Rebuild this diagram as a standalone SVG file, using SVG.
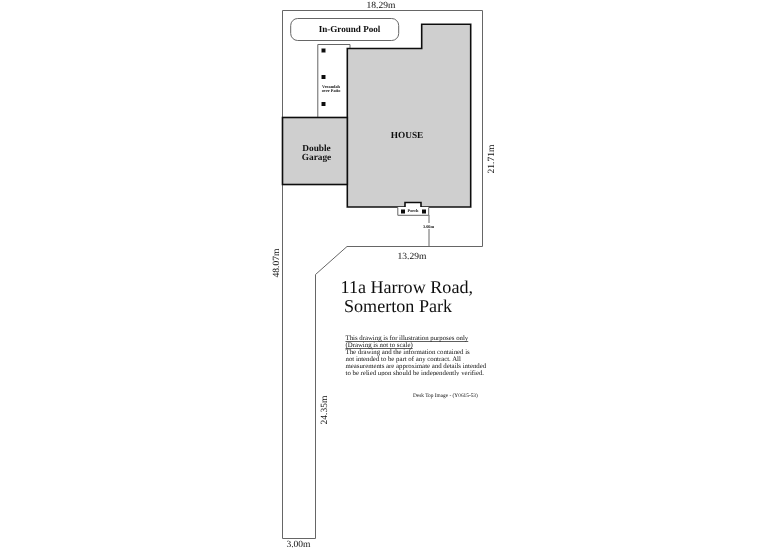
<svg xmlns="http://www.w3.org/2000/svg" width="768" height="550" viewBox="0 0 768 550">
<style>
text{font-family:"Liberation Serif","Times New Roman",serif;fill:#111;text-rendering:geometricPrecision}
.thin{fill:none;stroke:#666;stroke-width:1}
.wall{fill:#cfcfcf;stroke:#111;stroke-width:1.6}
.post{fill:#111;stroke:none}
.b{font-weight:bold;text-anchor:middle}
.dim{font-size:9.5px;text-anchor:middle}
.note{font-size:6.8px}
</style>
<defs><clipPath id="noteclip"><rect x="340" y="330" width="150" height="45.5"/></clipPath>
<filter id="soft" x="0" y="0" width="768" height="550" filterUnits="userSpaceOnUse"><feGaussianBlur stdDeviation="0.35"/></filter></defs>
<rect width="768" height="550" fill="#fff"/>
<g filter="url(#soft)">
<g id="connectors">
<path id="boundary" class="thin" d="M282.5 117V10.5H482.5V246.5H347L315.5 274.5V538.5H282.5V184"/>
<path id="setback" class="thin" d="M429 215V246.5"/>
</g>
<g id="pool"><rect class="thin" x="290.7" y="18.5" width="108" height="22" rx="7"/><text class="b" x="349.5" y="32" font-size="9.1">In-Ground Pool</text></g>
<g id="verandah"><path class="thin" d="M317.8 117V44.5H350V48"/>
<rect class="post" x="321.5" y="48.5" width="4" height="4"/><rect class="post" x="321.5" y="75" width="4" height="4"/><rect class="post" x="321.5" y="102" width="4" height="4"/>
<text class="b" font-size="4.3" x="331" y="87.5">Verandah</text><text class="b" font-size="4.3" x="331" y="92">over Patio</text></g>
<g id="house"><path class="wall" d="M347.3 48.5H421.7V24.3H470.7V207H347.3Z"/><text class="b" x="407" y="137.5" font-size="9.3">HOUSE</text></g>
<g id="porch"><path d="M397.8 207H405V202.5H421V207H428.7V215.3H397.8Z" fill="#fff" stroke="none"/>
<path fill="none" stroke="#111" stroke-width="1.6" d="M405 207V202.5H421V207"/>
<path class="thin" d="M397.8 207.5V215.3H428.7V207.5"/>
<rect class="post" x="401" y="209.5" width="4" height="4"/><rect class="post" x="422" y="209.5" width="4" height="4"/>
<text class="b" x="413" y="211.5" font-size="4.3">Porch</text></g>
<g id="garage"><rect class="wall" x="282.5" y="117.5" width="64.8" height="67"/><text class="b" x="316.5" y="150.5" font-size="9.3">Double</text><text class="b" x="316.5" y="159.5" font-size="9.3">Garage</text></g>
<g id="labels">
<text class="dim" x="381" y="7.5">18.29m</text>
<text class="dim" x="412" y="258.5">13.29m</text>
<text class="dim" x="298.5" y="547">3.00m</text>
<text class="dim" transform="translate(493.5 159) rotate(-90)">21.71m</text>
<text class="dim" transform="translate(279 263) rotate(-90)">48.07m</text>
<text class="dim" transform="translate(327 410) rotate(-90)">24.35m</text>
<rect x="421" y="223" width="16" height="6" fill="#fff"/>
<text class="b" x="428.5" y="228.3" font-size="4.3">3.66m</text>
</g>
<g id="title"><text x="340.5" y="293" font-size="18.1">11a Harrow Road,</text><text x="344" y="312" font-size="18.1">Somerton Park</text></g>
<g id="note" clip-path="url(#noteclip)">
<text class="note" x="345.5" y="340" text-decoration="underline">This drawing is for illustration purposes only</text>
<text class="note" x="345.5" y="347" text-decoration="underline">(Drawing is not to scale)</text>
<text class="note" x="345.5" y="354">The drawing and the information contained is</text>
<text class="note" x="345.5" y="361">not intended to be part of any contract.  All</text>
<text class="note" x="345.5" y="368">measurements are approximate and details intended</text>
<text class="note" x="345.5" y="375">to be relied upon should be independently verified.</text>
</g>
<text id="credit" x="413" y="397" font-size="5.35">Desk Top Image - (Y0615-53)</text>
</g>
</svg>
